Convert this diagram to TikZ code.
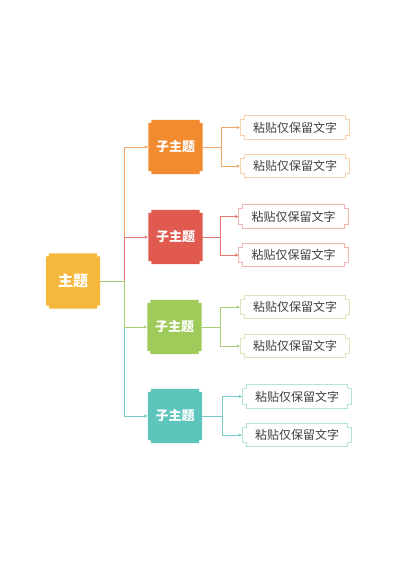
\documentclass[tikz,border=0pt]{standalone}
\usepackage{fontspec}
\newfontfamily\cjk{Noto Sans CJK SC}
\usetikzlibrary{arrows.meta,calc,backgrounds}
\definecolor{cmain}{HTML}{F5B83D}
\definecolor{corange}{HTML}{F28A30}
\definecolor{cred}{HTML}{E05A4F}
\definecolor{cgreen}{HTML}{9ECB59}
\definecolor{cteal}{HTML}{5EC5BD}
\definecolor{lorange}{HTML}{F0A868}
\definecolor{lred}{HTML}{E07A70}
\definecolor{lgreen}{HTML}{A8CF78}
\definecolor{lteal}{HTML}{7ACCC6}
\definecolor{borange}{HTML}{F7D3AE}
\definecolor{bred}{HTML}{EFB5AE}
\definecolor{bgreen}{HTML}{D6E7BC}
\definecolor{bteal}{HTML}{B7E3DF}
\definecolor{leaftext}{HTML}{404040}
\newcommand\notchshape[3]{%
  \path[#3] ($(#1.north west)+(#2,0pt)$) -- ($(#1.north east)+(-#2,0pt)$) -- ++(0pt,-#2) -- ++(#2,0pt)
    -- ($(#1.south east)+(0pt,#2)$) -- ++(-#2,0pt) -- ++(0pt,-#2)
    -- ($(#1.south west)+(#2,0pt)$) -- ++(0pt,#2) -- ++(-#2,0pt)
    -- ($(#1.north west)+(0pt,-#2)$) -- ++(#2,0pt) -- cycle;}
\tikzset{
  mainbox/.style={minimum width=54pt,minimum height=55pt,inner sep=0pt,text=white,
    font=\cjk\bfseries\fontsize{15}{15}\selectfont},
  subbox/.style={minimum width=54pt,minimum height=54pt,inner sep=0pt,text=white,
    font=\cjk\bfseries\fontsize{13}{13}\selectfont},
  leafbox/.style={minimum width=109pt,minimum height=23pt,inner sep=0pt,text=leaftext,
    font=\cjk\fontsize{12}{12}\selectfont},
  conn/.style={line width=0.8pt,-{Latex[length=3.5pt,width=3.5pt]}},
  plain/.style={line width=0.8pt},
}
\begin{document}
\begin{tikzpicture}[x=1pt,y=-1pt]
\useasboundingbox (0,0) rectangle (400,565);
% nodes
\node[mainbox] (main) at (73,281) {主题};
\node[subbox] (s1) at (175.5,147) {子主题};
\node[subbox] (s2) at (175.5,237) {子主题};
\node[subbox] (s3) at (174.5,327) {子主题};
\node[subbox] (s4) at (175,416) {子主题};
\node[leafbox] (l11) at (295,127.5) {粘贴仅保留文字};
\node[leafbox] (l12) at (295,166) {粘贴仅保留文字};
\node[leafbox] (l21) at (293.5,216.5) {粘贴仅保留文字};
\node[leafbox] (l22) at (293.5,255) {粘贴仅保留文字};
\node[leafbox] (l31) at (295,307) {粘贴仅保留文字};
\node[leafbox] (l32) at (295,346) {粘贴仅保留文字};
\node[leafbox] (l41) at (297,396.5) {粘贴仅保留文字};
\node[leafbox] (l42) at (297,435) {粘贴仅保留文字};
\coordinate (trunk) at (124,281);
\coordinate (b1) at (221,147);
\coordinate (b2) at (220,237);
\coordinate (b3) at (220.5,327);
\coordinate (b4) at (222,416);
% shapes
\begin{scope}[on background layer]
\notchshape{main}{3pt}{fill=cmain}
\notchshape{s1}{3pt}{fill=corange}
\notchshape{s2}{3pt}{fill=cred}
\notchshape{s3}{3pt}{fill=cgreen}
\notchshape{s4}{3pt}{fill=cteal}
\notchshape{l11}{4pt}{draw=borange,fill=white,line width=0.8pt}
\notchshape{l12}{4pt}{draw=borange,fill=white,line width=0.8pt}
\notchshape{l21}{4pt}{draw=bred,fill=white,line width=0.8pt}
\notchshape{l22}{4pt}{draw=bred,fill=white,line width=0.8pt}
\notchshape{l31}{4pt}{draw=bgreen,fill=white,line width=0.8pt}
\notchshape{l32}{4pt}{draw=bgreen,fill=white,line width=0.8pt}
\notchshape{l41}{4pt}{draw=bteal,fill=white,line width=0.8pt}
\notchshape{l42}{4pt}{draw=bteal,fill=white,line width=0.8pt}
\end{scope}
% main to sub connectors
\draw[conn,draw=lorange] (trunk) |- (s1.west);
\draw[conn,draw=lred] (trunk) |- (s2.west);
\draw[conn,draw=lteal] (trunk) |- (s4.west);
\draw[conn,draw=lgreen] (trunk) |- (s3.west);
\draw[plain,draw=lgreen] (main.east) -- (trunk);
% sub to leaf connectors
\draw[plain,draw=lorange] (s1.east) -- (b1);
\draw[conn,draw=lorange] (b1) |- (l11.west);
\draw[conn,draw=lorange] (b1) |- (l12.west);
\draw[plain,draw=lred] (s2.east) -- (b2);
\draw[conn,draw=lred] (b2) |- (l21.west);
\draw[conn,draw=lred] (b2) |- (l22.west);
\draw[plain,draw=lgreen] (s3.east) -- (b3);
\draw[conn,draw=lgreen] (b3) |- (l31.west);
\draw[conn,draw=lgreen] (b3) |- (l32.west);
\draw[plain,draw=lteal] (s4.east) -- (b4);
\draw[conn,draw=lteal] (b4) |- (l41.west);
\draw[conn,draw=lteal] (b4) |- (l42.west);
\end{tikzpicture}
\end{document}
